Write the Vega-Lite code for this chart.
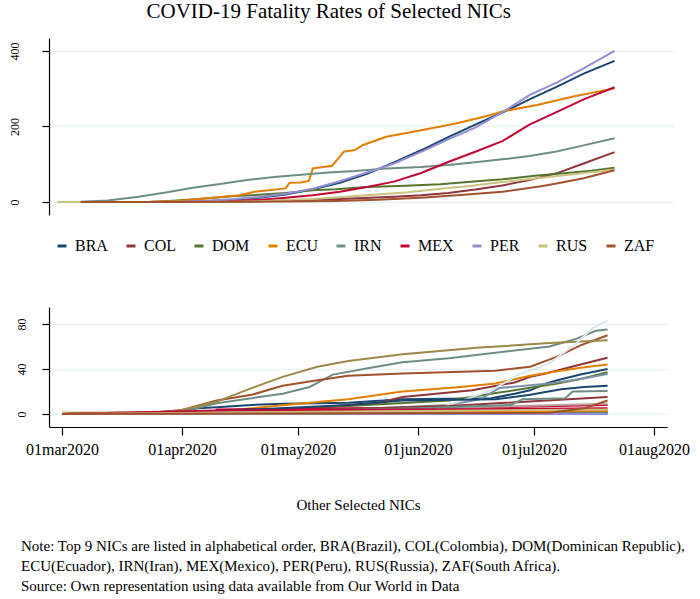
{
"$schema": "https://vega.github.io/schema/vega-lite/v6.json",
"padding": {"left": 2, "top": 1, "right": 0, "bottom": 0},
"config": {
  "view": {"stroke": null},
  "font": "Liberation Serif",
  "axis": {"labelFont": "Liberation Serif", "titleFont": "Liberation Serif", "labelColor": "black", "titleColor": "black", "domainColor": "black", "tickColor": "black", "domainWidth": 1.2, "tickWidth": 1.2, "gridColor": "#eaf2f3", "gridWidth": 1.6, "titleFontWeight": "normal"},
  "legend": {"labelFont": "Liberation Serif", "labelColor": "black"},
  "title": {"font": "Liberation Serif", "color": "black", "fontWeight": "normal"}
},
"title": {"text": "COVID-19 Fatality Rates of Selected NICs", "fontSize": 21, "anchor": "middle", "dx": -17, "offset": 16, "baseline": "top"},
"spacing": 53,
"datasets": {
"top": [
{"c":"BRA","d":"2020-03-04","v":0},{"c":"BRA","d":"2020-03-22","v":0.1},{"c":"BRA","d":"2020-03-29","v":0.6},{"c":"BRA","d":"2020-04-05","v":2.3},{"c":"BRA","d":"2020-04-12","v":5.8},{"c":"BRA","d":"2020-04-19","v":11.5},{"c":"BRA","d":"2020-04-26","v":20},{"c":"BRA","d":"2020-05-03","v":34},{"c":"BRA","d":"2020-05-10","v":51},{"c":"BRA","d":"2020-05-17","v":75},{"c":"BRA","d":"2020-05-24","v":105},{"c":"BRA","d":"2020-05-31","v":137},{"c":"BRA","d":"2020-06-07","v":172},{"c":"BRA","d":"2020-06-14","v":205},{"c":"BRA","d":"2020-06-21","v":237},{"c":"BRA","d":"2020-06-28","v":272},{"c":"BRA","d":"2020-07-05","v":305},{"c":"BRA","d":"2020-07-12","v":340},{"c":"BRA","d":"2020-07-20","v":374},
{"c":"COL","d":"2020-03-04","v":0},{"c":"COL","d":"2020-03-29","v":0.1},{"c":"COL","d":"2020-04-12","v":1},{"c":"COL","d":"2020-04-26","v":4},{"c":"COL","d":"2020-05-10","v":8},{"c":"COL","d":"2020-05-24","v":14},{"c":"COL","d":"2020-05-31","v":18},{"c":"COL","d":"2020-06-07","v":24},{"c":"COL","d":"2020-06-14","v":33},{"c":"COL","d":"2020-06-21","v":44},{"c":"COL","d":"2020-06-28","v":58},{"c":"COL","d":"2020-07-05","v":76},{"c":"COL","d":"2020-07-12","v":102},{"c":"COL","d":"2020-07-20","v":132},
{"c":"DOM","d":"2020-03-04","v":0},{"c":"DOM","d":"2020-03-22","v":0.3},{"c":"DOM","d":"2020-03-29","v":4},{"c":"DOM","d":"2020-04-05","v":9},{"c":"DOM","d":"2020-04-12","v":15},{"c":"DOM","d":"2020-04-19","v":19},{"c":"DOM","d":"2020-04-26","v":24},{"c":"DOM","d":"2020-05-03","v":31},{"c":"DOM","d":"2020-05-09","v":34},{"c":"DOM","d":"2020-05-17","v":40},{"c":"DOM","d":"2020-05-27","v":43},{"c":"DOM","d":"2020-06-05","v":47},{"c":"DOM","d":"2020-06-12","v":53},{"c":"DOM","d":"2020-06-21","v":60},{"c":"DOM","d":"2020-06-30","v":70},{"c":"DOM","d":"2020-07-07","v":76},{"c":"DOM","d":"2020-07-14","v":83},{"c":"DOM","d":"2020-07-20","v":91},
{"c":"ECU","d":"2020-03-04","v":0},{"c":"ECU","d":"2020-03-15","v":0},{"c":"ECU","d":"2020-03-22","v":0.4},{"c":"ECU","d":"2020-03-29","v":2.5},{"c":"ECU","d":"2020-04-06","v":10},{"c":"ECU","d":"2020-04-14","v":18},{"c":"ECU","d":"2020-04-18","v":27},{"c":"ECU","d":"2020-04-26","v":36},{"c":"ECU","d":"2020-04-27","v":51},{"c":"ECU","d":"2020-04-30","v":52},{"c":"ECU","d":"2020-05-02","v":56},{"c":"ECU","d":"2020-05-03","v":89},{"c":"ECU","d":"2020-05-08","v":96},{"c":"ECU","d":"2020-05-10","v":120},{"c":"ECU","d":"2020-05-11","v":133},{"c":"ECU","d":"2020-05-14","v":138},{"c":"ECU","d":"2020-05-16","v":151},{"c":"ECU","d":"2020-05-22","v":173},{"c":"ECU","d":"2020-05-31","v":190},{"c":"ECU","d":"2020-06-09","v":208},{"c":"ECU","d":"2020-06-17","v":228},{"c":"ECU","d":"2020-06-21","v":240},{"c":"ECU","d":"2020-06-30","v":257},{"c":"ECU","d":"2020-07-09","v":279},{"c":"ECU","d":"2020-07-20","v":301},
{"c":"IRN","d":"2020-03-04","v":1},{"c":"IRN","d":"2020-03-11","v":4},{"c":"IRN","d":"2020-03-19","v":14},{"c":"IRN","d":"2020-03-26","v":25},{"c":"IRN","d":"2020-04-02","v":38},{"c":"IRN","d":"2020-04-09","v":48},{"c":"IRN","d":"2020-04-16","v":58},{"c":"IRN","d":"2020-04-23","v":66},{"c":"IRN","d":"2020-04-30","v":72},{"c":"IRN","d":"2020-05-07","v":78},{"c":"IRN","d":"2020-05-14","v":82},{"c":"IRN","d":"2020-05-22","v":89},{"c":"IRN","d":"2020-05-31","v":93},{"c":"IRN","d":"2020-06-07","v":98},{"c":"IRN","d":"2020-06-14","v":105},{"c":"IRN","d":"2020-06-21","v":113},{"c":"IRN","d":"2020-06-28","v":122},{"c":"IRN","d":"2020-07-05","v":134},{"c":"IRN","d":"2020-07-12","v":150},{"c":"IRN","d":"2020-07-20","v":169},
{"c":"MEX","d":"2020-03-04","v":0},{"c":"MEX","d":"2020-03-29","v":0.1},{"c":"MEX","d":"2020-04-05","v":0.6},{"c":"MEX","d":"2020-04-12","v":2.6},{"c":"MEX","d":"2020-04-19","v":5.5},{"c":"MEX","d":"2020-04-26","v":11},{"c":"MEX","d":"2020-05-03","v":18},{"c":"MEX","d":"2020-05-10","v":27},{"c":"MEX","d":"2020-05-17","v":40},{"c":"MEX","d":"2020-05-24","v":54},{"c":"MEX","d":"2020-05-31","v":77},{"c":"MEX","d":"2020-06-07","v":106},{"c":"MEX","d":"2020-06-14","v":133},{"c":"MEX","d":"2020-06-21","v":161},{"c":"MEX","d":"2020-06-28","v":205},{"c":"MEX","d":"2020-07-05","v":238},{"c":"MEX","d":"2020-07-12","v":272},{"c":"MEX","d":"2020-07-20","v":304},
{"c":"PER","d":"2020-03-04","v":0},{"c":"PER","d":"2020-03-22","v":0.2},{"c":"PER","d":"2020-03-29","v":0.8},{"c":"PER","d":"2020-04-05","v":2.5},{"c":"PER","d":"2020-04-12","v":7},{"c":"PER","d":"2020-04-19","v":13},{"c":"PER","d":"2020-04-26","v":22},{"c":"PER","d":"2020-05-03","v":35},{"c":"PER","d":"2020-05-10","v":55},{"c":"PER","d":"2020-05-17","v":78},{"c":"PER","d":"2020-05-24","v":102},{"c":"PER","d":"2020-05-31","v":133},{"c":"PER","d":"2020-06-07","v":166},{"c":"PER","d":"2020-06-14","v":197},{"c":"PER","d":"2020-06-21","v":238},{"c":"PER","d":"2020-06-28","v":283},{"c":"PER","d":"2020-07-05","v":316},{"c":"PER","d":"2020-07-12","v":354},{"c":"PER","d":"2020-07-20","v":400},
{"c":"RUS","d":"2020-02-27","v":0},{"c":"RUS","d":"2020-03-22","v":0},{"c":"RUS","d":"2020-03-29","v":0.1},{"c":"RUS","d":"2020-04-05","v":0.3},{"c":"RUS","d":"2020-04-12","v":0.7},{"c":"RUS","d":"2020-04-19","v":2},{"c":"RUS","d":"2020-04-26","v":5},{"c":"RUS","d":"2020-05-03","v":8},{"c":"RUS","d":"2020-05-09","v":12},{"c":"RUS","d":"2020-05-17","v":18},{"c":"RUS","d":"2020-05-27","v":25},{"c":"RUS","d":"2020-06-05","v":35},{"c":"RUS","d":"2020-06-12","v":42},{"c":"RUS","d":"2020-06-21","v":53},{"c":"RUS","d":"2020-06-30","v":63},{"c":"RUS","d":"2020-07-10","v":74},{"c":"RUS","d":"2020-07-20","v":86},
{"c":"ZAF","d":"2020-03-04","v":0},{"c":"ZAF","d":"2020-03-29","v":0.02},{"c":"ZAF","d":"2020-04-12","v":0.4},{"c":"ZAF","d":"2020-04-26","v":1.5},{"c":"ZAF","d":"2020-05-09","v":3},{"c":"ZAF","d":"2020-05-20","v":6},{"c":"ZAF","d":"2020-06-01","v":12},{"c":"ZAF","d":"2020-06-11","v":19},{"c":"ZAF","d":"2020-06-21","v":27},{"c":"ZAF","d":"2020-07-01","v":42},{"c":"ZAF","d":"2020-07-05","v":49},{"c":"ZAF","d":"2020-07-12","v":63},{"c":"ZAF","d":"2020-07-20","v":84}
],
"other": [
{"s":"o01","d":"2020-03-13","v":1},{"s":"o01","d":"2020-03-25","v":1.5},{"s":"o01","d":"2020-04-01","v":2.6},{"s":"o01","d":"2020-04-05","v":5},{"s":"o01","d":"2020-04-10","v":6},{"s":"o01","d":"2020-04-19","v":8},{"s":"o01","d":"2020-04-27","v":9},{"s":"o01","d":"2020-05-14","v":10},{"s":"o01","d":"2020-05-28","v":13},{"s":"o01","d":"2020-06-20","v":14},{"s":"o01","d":"2020-06-26","v":18},{"s":"o01","d":"2020-06-30","v":21},{"s":"o01","d":"2020-07-04","v":27},{"s":"o01","d":"2020-07-07","v":30},{"s":"o01","d":"2020-07-13","v":35},{"s":"o01","d":"2020-07-20","v":40},
{"s":"o02","d":"2020-03-01","v":0},{"s":"o02","d":"2020-03-28","v":0},{"s":"o02","d":"2020-04-10","v":2},{"s":"o02","d":"2020-05-06","v":6},{"s":"o02","d":"2020-05-22","v":10},{"s":"o02","d":"2020-05-28","v":15},{"s":"o02","d":"2020-06-15","v":21},{"s":"o02","d":"2020-06-26","v":28},{"s":"o02","d":"2020-06-30","v":33},{"s":"o02","d":"2020-07-04","v":36},{"s":"o02","d":"2020-07-13","v":44},{"s":"o02","d":"2020-07-20","v":50},
{"s":"o03","d":"2020-03-01","v":0},{"s":"o03","d":"2020-04-01","v":0.5},{"s":"o03","d":"2020-04-19","v":3},{"s":"o03","d":"2020-05-14","v":7},{"s":"o03","d":"2020-06-09","v":12},{"s":"o03","d":"2020-06-22","v":19},{"s":"o03","d":"2020-07-07","v":27},{"s":"o03","d":"2020-07-13","v":31},{"s":"o03","d":"2020-07-20","v":37},
{"s":"o04","d":"2020-03-01","v":0},{"s":"o04","d":"2020-03-25","v":0.2},{"s":"o04","d":"2020-04-10","v":2},{"s":"o04","d":"2020-04-19","v":5},{"s":"o04","d":"2020-05-01","v":9},{"s":"o04","d":"2020-05-14","v":13},{"s":"o04","d":"2020-05-28","v":20},{"s":"o04","d":"2020-06-12","v":24},{"s":"o04","d":"2020-06-21","v":27},{"s":"o04","d":"2020-06-30","v":34},{"s":"o04","d":"2020-07-07","v":38},{"s":"o04","d":"2020-07-13","v":41},{"s":"o04","d":"2020-07-20","v":44},
{"s":"o05","d":"2020-03-01","v":0},{"s":"o05","d":"2020-03-25","v":0.5},{"s":"o05","d":"2020-04-01","v":2},{"s":"o05","d":"2020-04-10","v":9.5},{"s":"o05","d":"2020-04-19","v":14},{"s":"o05","d":"2020-04-27","v":18},{"s":"o05","d":"2020-05-04","v":24},{"s":"o05","d":"2020-05-10","v":35},{"s":"o05","d":"2020-05-19","v":40.6},{"s":"o05","d":"2020-05-28","v":46},{"s":"o05","d":"2020-06-09","v":49.5},{"s":"o05","d":"2020-06-21","v":54.5},{"s":"o05","d":"2020-07-05","v":60},{"s":"o05","d":"2020-07-09","v":64},{"s":"o05","d":"2020-07-12","v":67},{"s":"o05","d":"2020-07-17","v":74},{"s":"o05","d":"2020-07-20","v":75},
{"s":"o06","d":"2020-03-01","v":0},{"s":"o06","d":"2020-04-09","v":0.5},{"s":"o06","d":"2020-04-10","v":4},{"s":"o06","d":"2020-05-14","v":5},{"s":"o06","d":"2020-06-20","v":6},{"s":"o06","d":"2020-07-20","v":8},
{"s":"o07","d":"2020-03-01","v":0},{"s":"o07","d":"2020-07-20","v":0},
{"s":"o08","d":"2020-03-01","v":1.2},{"s":"o08","d":"2020-04-01","v":1.3},{"s":"o08","d":"2020-05-14","v":2},{"s":"o08","d":"2020-07-20","v":3},
{"s":"o09","d":"2020-03-01","v":0},{"s":"o09","d":"2020-03-25","v":0.5},{"s":"o09","d":"2020-04-01","v":3.6},{"s":"o09","d":"2020-04-10","v":12},{"s":"o09","d":"2020-04-19","v":17},{"s":"o09","d":"2020-04-27","v":25},{"s":"o09","d":"2020-05-06","v":30},{"s":"o09","d":"2020-05-14","v":34},{"s":"o09","d":"2020-05-28","v":36},{"s":"o09","d":"2020-06-21","v":38.5},{"s":"o09","d":"2020-06-30","v":42},{"s":"o09","d":"2020-07-07","v":51},{"s":"o09","d":"2020-07-13","v":61},{"s":"o09","d":"2020-07-20","v":70},
{"s":"o10","d":"2020-03-01","v":0},{"s":"o10","d":"2020-04-10","v":1},{"s":"o10","d":"2020-05-14","v":4},{"s":"o10","d":"2020-06-09","v":8},{"s":"o10","d":"2020-06-17","v":13},{"s":"o10","d":"2020-06-22","v":23},{"s":"o10","d":"2020-07-05","v":27},{"s":"o10","d":"2020-07-13","v":31},{"s":"o10","d":"2020-07-20","v":35.5},
{"s":"o11","d":"2020-03-01","v":0},{"s":"o11","d":"2020-07-20","v":1},
{"s":"o12","d":"2020-03-01","v":0},{"s":"o12","d":"2020-03-24","v":1},{"s":"o12","d":"2020-04-01","v":3.6},{"s":"o12","d":"2020-04-10","v":11},{"s":"o12","d":"2020-04-19","v":23},{"s":"o12","d":"2020-04-27","v":33},{"s":"o12","d":"2020-05-06","v":42},{"s":"o12","d":"2020-05-14","v":47},{"s":"o12","d":"2020-05-28","v":53},{"s":"o12","d":"2020-06-17","v":59},{"s":"o12","d":"2020-07-05","v":63},{"s":"o12","d":"2020-07-20","v":65.5},
{"s":"o13","d":"2020-03-01","v":0},{"s":"o13","d":"2020-04-15","v":2},{"s":"o13","d":"2020-06-01","v":5},{"s":"o13","d":"2020-07-20","v":9},
{"s":"o14","d":"2020-03-01","v":0},{"s":"o14","d":"2020-07-20","v":2},
{"s":"o15","d":"2020-03-01","v":0},{"s":"o15","d":"2020-06-05","v":3},{"s":"o15","d":"2020-06-09","v":8},{"s":"o15","d":"2020-06-20","v":21},{"s":"o15","d":"2020-06-27","v":35},{"s":"o15","d":"2020-07-05","v":45},{"s":"o15","d":"2020-07-12","v":63},{"s":"o15","d":"2020-07-16","v":76},{"s":"o15","d":"2020-07-20","v":83},
{"s":"o16","d":"2020-03-01","v":0},{"s":"o16","d":"2020-04-01","v":1},{"s":"o16","d":"2020-05-14","v":8},{"s":"o16","d":"2020-05-28","v":12},{"s":"o16","d":"2020-06-21","v":13},{"s":"o16","d":"2020-06-30","v":17},{"s":"o16","d":"2020-07-08","v":22},{"s":"o16","d":"2020-07-14","v":24},{"s":"o16","d":"2020-07-20","v":25},
{"s":"o17","d":"2020-03-01","v":0},{"s":"o17","d":"2020-05-01","v":3},{"s":"o17","d":"2020-06-09","v":7},{"s":"o17","d":"2020-07-20","v":15},
{"s":"o18","d":"2020-03-01","v":0},{"s":"o18","d":"2020-07-20","v":1.5},
{"s":"o19","d":"2020-03-01","v":0},{"s":"o19","d":"2020-06-01","v":1},{"s":"o19","d":"2020-07-20","v":3},
{"s":"o20","d":"2020-03-01","v":0},{"s":"o20","d":"2020-04-20","v":2},{"s":"o20","d":"2020-06-01","v":5},{"s":"o20","d":"2020-06-25","v":8},{"s":"o20","d":"2020-06-28","v":13},{"s":"o20","d":"2020-07-09","v":14},{"s":"o20","d":"2020-07-11","v":20},{"s":"o20","d":"2020-07-20","v":20.5},
{"s":"o21","d":"2020-03-01","v":0},{"s":"o21","d":"2020-04-10","v":3},{"s":"o21","d":"2020-07-20","v":5},
{"s":"o22","d":"2020-03-01","v":0},{"s":"o22","d":"2020-07-20","v":0.3},
{"s":"o23","d":"2020-03-01","v":0},{"s":"o23","d":"2020-07-20","v":4},
{"s":"o24","d":"2020-03-01","v":0},{"s":"o24","d":"2020-07-05","v":1},{"s":"o24","d":"2020-07-14","v":5},{"s":"o24","d":"2020-07-20","v":12}
]
},
"vconcat": [
{
  "width": 625, "height": 177,
  "data": {"name": "top"},
  "mark": {"type": "line", "strokeWidth": 2},
  "encoding": {
    "x": {"field": "d", "type": "temporal",
      "scale": {"type": "utc", "domain": [{"year": 2020, "month": 2, "date": 24, "hours": 19, "minutes": 57, "utc": true}, {"year": 2020, "month": 8, "date": 4, "hours": 8, "minutes": 38, "utc": true}]},
      "axis": null},
    "y": {"field": "v", "type": "quantitative",
      "scale": {"domain": [-34.4, 434.4], "nice": false, "zero": false},
      "axis": {"values": [0, 200, 400], "title": null, "labelAngle": -90, "labelAlign": "center", "labelBaseline": "bottom", "labelFontSize": 12, "labelPadding": 21, "tickSize": 7, "grid": true, "minExtent": 40, "maxExtent": 40}},
    "color": {"field": "c", "type": "nominal",
      "scale": {"domain": ["BRA","COL","DOM","ECU","IRN","MEX","PER","RUS","ZAF"], "range": ["#1a476f","#90353b","#55752f","#e37e00","#6e8e84","#c10534","#938dd2","#cac27e","#a0522d"]},
      "legend": {"orient": "none", "legendX": 5, "legendY": 200, "direction": "horizontal", "columns": 9, "gridAlign": "none", "title": null, "symbolType": "stroke", "symbolSize": 81, "symbolStrokeWidth": 3, "labelFontSize": 16, "columnPadding": 12, "labelOffset": 5}}
  }
},
{
  "width": 618, "height": 120,
  "data": {"name": "other"},
  "title": {"text": ["Note: Top 9 NICs are listed in alphabetical order, BRA(Brazil), COL(Colombia), DOM(Dominican Republic),", "ECU(Ecuador), IRN(Iran), MEX(Mexico), PER(Peru), RUS(Russia), ZAF(South Africa).", "Source: Own representation using data available from Our World in Data"], "orient": "bottom", "anchor": "start", "fontSize": 15, "lineHeight": 20, "offset": 27, "dx": 19, "baseline": "top"},
  "mark": {"type": "line", "strokeWidth": 2},
  "encoding": {
    "x": {"field": "d", "type": "temporal",
      "scale": {"type": "utc", "domain": [{"year": 2020, "month": 2, "date": 26, "hours": 15, "minutes": 22, "utc": true}, {"year": 2020, "month": 8, "date": 4, "hours": 8, "minutes": 38, "utc": true}]},
      "axis": {"values": [{"year": 2020, "month": 3, "date": 1, "utc": true}, {"year": 2020, "month": 4, "date": 1, "utc": true}, {"year": 2020, "month": 5, "date": 1, "utc": true}, {"year": 2020, "month": 6, "date": 1, "utc": true}, {"year": 2020, "month": 7, "date": 1, "utc": true}, {"year": 2020, "month": 8, "date": 1, "utc": true}],
        "labelExpr": "lower(utcFormat(datum.value, '%d%b%Y'))", "title": "Other Selected NICs", "titleFontSize": 15, "titlePadding": 40, "labelFontSize": 16, "labelPadding": 6, "tickSize": 8, "grid": false, "labelFlush": false, "labelOverlap": false}},
    "y": {"field": "v", "type": "quantitative",
      "scale": {"domain": [-11.6, 95.1], "nice": false, "zero": false},
      "axis": {"values": [0, 40, 80], "title": null, "labelAngle": -90, "labelAlign": "center", "labelBaseline": "bottom", "labelFontSize": 12, "labelPadding": 14, "tickSize": 7, "grid": true, "minExtent": 47, "maxExtent": 47}},
    "color": {"field": "s", "type": "nominal",
      "scale": {"domain": ["o01","o02","o03","o04","o05","o06","o07","o08","o09","o10","o11","o12","o13","o14","o15","o16","o17","o18","o19","o20","o21","o22","o23","o24"], "range": ["#1a476f","#90353b","#55752f","#e37e00","#6e8e84","#c10534","#938dd2","#cac27e","#a0522d","#7b92a8","#2d6d66","#9c8847","#bfa19c","#ffd200","#d9e6eb","#1a476f","#90353b","#55752f","#e37e00","#6e8e84","#c10534","#938dd2","#cac27e","#a0522d"]},
      "legend": null}
  }
}
],
"resolve": {"scale": {"color": "independent", "x": "independent", "y": "independent"}}
}
